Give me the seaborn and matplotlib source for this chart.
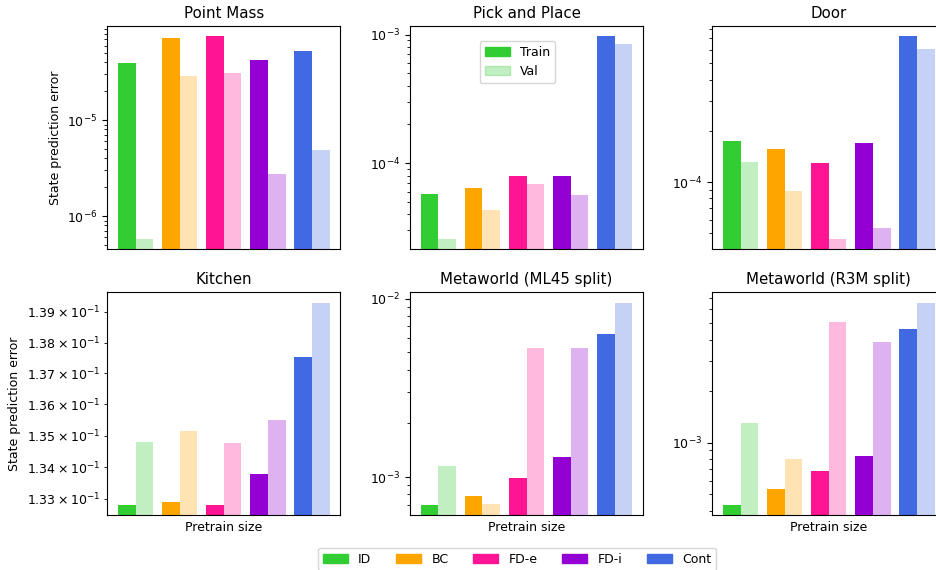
import numpy as np
import pandas as pd
import matplotlib
matplotlib.use('Agg')
import matplotlib.pyplot as plt
import seaborn as sb
from matplotlib.patches import Patch

plt.rcParams['font.size'] = 9

methods = ['ID', 'BC', 'FD-e', 'FD-i', 'Cont']
colors = ['limegreen', 'orange', 'deeppink', 'darkviolet', 'royalblue']
titles = ['Point Mass', 'Pick and Place', 'Door',
          'Kitchen', 'Metaworld (ML45 split)', 'Metaworld (R3M split)']

# values (train / val per method)
point_mass_train = [3.98e-5, 7.16e-5, 7.5e-5, 4.28e-5, 5.2e-5]
point_mass_val = [5.8e-7, 2.87e-5, 3.08e-5, 2.75e-6, 4.9e-6]
pick_place_train = [5.77e-5, 6.42e-5, 7.96e-5, 7.9e-5, 9.7e-4]
pick_place_val = [2.58e-5, 4.33e-5, 6.9e-5, 5.69e-5, 8.5e-4]
door_train = [1.74e-4, 1.57e-4, 1.29e-4, 1.69e-4, 7.21e-4]
door_val = [1.32e-4, 8.85e-5, 4.63e-5, 5.37e-5, 6.04e-4]
kitchen_train = [0.13280, 0.13290, 0.13280, 0.13377, 0.13752]
kitchen_val = [0.13480, 0.13514, 0.13475, 0.13551, 0.13931]
ml45_train = [6.97e-4, 7.85e-4, 9.9e-4, 1.295e-3, 6.33e-3]
ml45_val = [1.153e-3, 7.03e-4, 5.28e-3, 5.26e-3, 9.5e-3]
r3m_train = [4.31e-4, 5.37e-4, 6.82e-4, 8.32e-4, 4.63e-3]
r3m_val = [1.30e-3, 8.06e-4, 5.05e-3, 3.85e-3, 6.58e-3]

panels = [(point_mass_train, point_mass_val), (pick_place_train, pick_place_val),
          (door_train, door_val), (kitchen_train, kitchen_val),
          (ml45_train, ml45_val), (r3m_train, r3m_val)]

fig = plt.figure(figsize=(9.37, 5.70), dpi=100)

lefts = [0.1145, 0.4376, 0.7602]
bottoms = [0.5632, 0.096]
w, h = 0.2487, 0.391

for k, (train, val) in enumerate(panels):
    r, c = divmod(k, 3)
    ax = fig.add_axes([lefts[c], bottoms[r], w, h])
    df = pd.DataFrame({'method': methods * 2,
                       'err': train + val,
                       'split': ['Train'] * 5 + ['Val'] * 5})
    ax.set_yscale('log')
    sb.barplot(data=df, x='method', y='err', hue='split', order=methods,
               hue_order=['Train', 'Val'], errorbar=None, legend=False, ax=ax)
    # recolour: first 5 patches are Train, next 5 Val
    for j, p in enumerate(ax.patches[:10]):
        p.set_facecolor(colors[j % 5])
        p.set_edgecolor('none')
        p.set_alpha(1.0 if j < 5 else 0.3)
    allv = np.log10(train + val)
    span = allv.max() - allv.min()
    ax.set_ylim(10 ** (allv.min() - 0.05 * span), 10 ** (allv.max() + 0.05 * span))
    ax.set_xlim(-0.64, 4.64)
    ax.set_xticks([])
    ax.set_title(titles[k])
    ax.set_xlabel('Pretrain size' if r == 1 else '')
    ax.set_ylabel('State prediction error' if c == 0 else '')
    if k == 1:
        ax.legend(handles=[Patch(color='limegreen', label='Train'),
                           Patch(color='limegreen', alpha=0.3, label='Val')],
                  loc='upper center', bbox_to_anchor=(0.461, 0.934), borderaxespad=0)

handles = [Patch(color=col, label=m) for m, col in zip(methods, colors)]
fig.legend(handles=handles, ncol=5, loc='upper center',
           bbox_to_anchor=(0.552, 0.039), borderaxespad=0)

fig.savefig('out.png', dpi=100)
